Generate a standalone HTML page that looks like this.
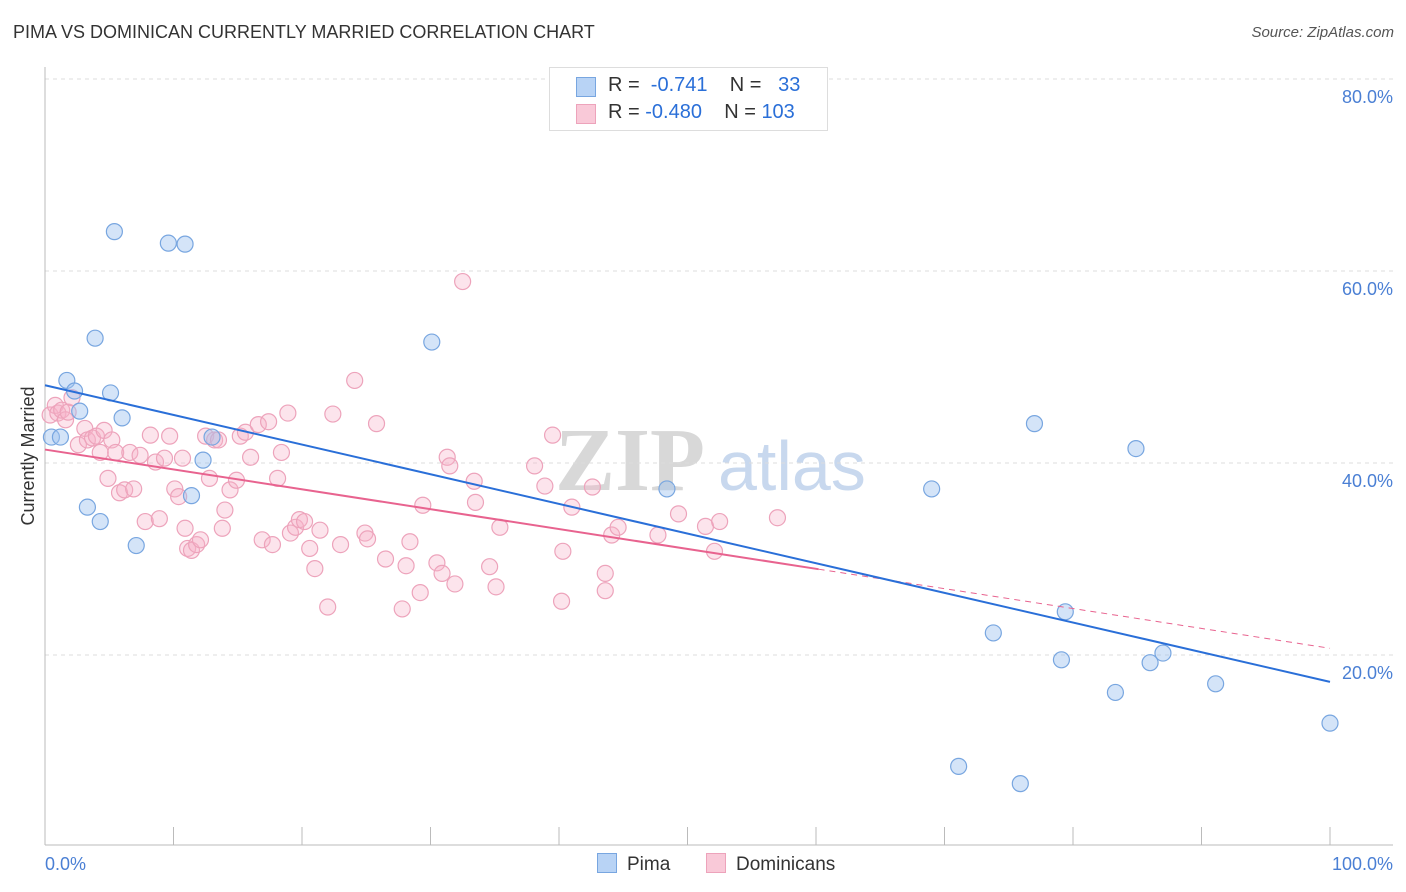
<!DOCTYPE html>
<html><head><meta charset="utf-8">
<style>
body{margin:0;background:#fff;font-family:"Liberation Sans",sans-serif;}
#wrap{position:relative;width:1406px;height:892px;overflow:hidden;}
.t{position:absolute;white-space:nowrap;}
</style></head><body>
<div id="wrap">
<div class="t" style="left:13px;top:22px;font-size:18px;color:#333;">PIMA VS DOMINICAN CURRENTLY MARRIED CORRELATION CHART</div>
<div class="t" style="right:12px;top:24px;font-size:15px;color:#555;font-style:italic;">Source: ZipAtlas.com</div>
<svg id="svg" width="1406" height="892" style="position:absolute;left:0;top:0"></svg>
</div>
<script>
const pimaX=[0.5,1.2,1.7,2.3,2.7,3.3,4.3,5.1,5.4,6.0,7.1,9.6,10.9,11.4,12.3,13.0,3.9,30.1,48.4,69.0,77.0,84.9,73.8,79.4,79.1,83.3,86.0,87.0,91.1,100,71.1,75.9];
const pimaY=[42.7,42.7,48.6,47.5,45.4,35.4,33.9,47.3,64.1,44.7,31.4,62.9,62.8,36.6,40.3,42.7,53.0,52.6,37.3,37.3,44.1,41.5,22.3,24.5,19.5,16.1,19.2,20.2,17.0,12.9,8.4,6.6];
const domX=[0.4,0.8,1.0,1.3,1.6,1.8,2.1,2.6,3.1,3.3,3.7,4.0,4.3,4.6,4.9,5.2,5.5,5.8,6.2,6.6,6.9,7.4,7.8,8.2,8.6,8.9,9.3,9.7,10.1,10.4,10.7,10.9,11.1,11.4,11.8,12.1,12.5,12.8,13.2,13.5,13.8,14.0,14.4,14.9,15.2,15.6,16.0,16.6,16.9,17.4,17.7,18.1,18.4,18.9,19.1,19.5,19.8,20.2,20.6,21.0,21.4,22.0,22.4,23.0,24.1,24.9,25.1,25.8,26.5,27.8,28.1,28.4,29.2,29.4,30.5,30.9,31.3,31.5,31.9,32.5,33.4,33.5,34.6,35.1,35.4,38.1,38.9,39.5,40.2,40.3,41.0,42.6,43.6,43.6,44.1,44.6,47.7,49.3,51.4,52.1,52.5,57.0];
const domY=[45.0,46.0,45.2,45.5,44.5,45.3,46.8,41.9,43.6,42.4,42.6,42.8,41.1,43.4,38.4,42.4,41.1,36.9,37.2,41.1,37.3,40.8,33.9,42.9,40.1,34.2,40.5,42.8,37.3,36.5,40.5,33.2,31.1,30.9,31.5,32.0,42.8,38.4,42.4,42.4,33.2,35.1,37.2,38.2,42.8,43.2,40.6,44.0,32.0,44.3,31.5,38.4,41.1,45.2,32.7,33.3,34.1,33.9,31.1,29.0,33.0,25.0,45.1,31.5,48.6,32.7,32.1,44.1,30.0,24.8,29.3,31.8,26.5,35.6,29.6,28.5,40.6,39.7,27.4,58.9,38.1,35.9,29.2,27.1,33.3,39.7,37.6,42.9,25.6,30.8,35.4,37.5,28.5,26.7,32.5,33.3,32.5,34.7,33.4,30.8,33.9,34.3];
const yTicks=[20,40,60,80];
const yTickLabels=["20.0%","40.0%","60.0%","80.0%"];
const pimaTrend=[48.1,17.2];
const domTrend=[41.4,20.7];
const domSolidEnd=60.2;

const NS="http://www.w3.org/2000/svg";
const svg=document.getElementById('svg');
const xs=v=>45+v*12.85, ys=v=>847-v*9.6;
function mk(tag,a){const e=document.createElementNS(NS,tag);for(const k in a)e.setAttribute(k,a[k]);svg.appendChild(e);return e;}
// watermark
let w=mk('text',{x:555,y:490,'font-size':90,'font-family':'Liberation Serif, serif',fill:'#d8d8d8','font-weight':'bold'});w.textContent='ZIP';


w=mk('text',{x:718,y:490,'font-size':70,'font-family':'Liberation Sans, sans-serif',fill:'#c8d8ee'});w.textContent='atlas';


yTicks.forEach((t,i)=>{
 let g=mk('line',{x1:45,x2:1393,y1:ys(t),y2:ys(t),stroke:'#ddd','stroke-dasharray':'4,4'});
 
 
 let l=mk('text',{x:1393,y:ys(t)+24,'text-anchor':'end','font-size':18,fill:'#4a7fd4'});l.textContent=yTickLabels[i];
 
 
});
let ax=mk('line',{x1:45,x2:45,y1:67,y2:845,stroke:'#bbb'});


ax=mk('line',{x1:45,x2:1393,y1:845,y2:845,stroke:'#bbb'});


for(let i=0;i<=10;i++){let t=mk('line',{x1:xs(i*10),x2:xs(i*10),y1:827,y2:845,stroke:'#bbb'});
 
 }
let xl=mk('text',{x:45,y:870,'font-size':18,fill:'#4a7fd4'});xl.textContent='0.0%';


xl=mk('text',{x:1393,y:870,'font-size':18,fill:'#4a7fd4','text-anchor':'end'});xl.textContent='100.0%';


let yt=mk('text',{x:34,y:456,'font-size':18,fill:'#333','text-anchor':'middle',transform:'rotate(-90 34 456)'});yt.textContent='Currently Married';


domX.forEach((x,i)=>{let c=mk('circle',{cx:xs(x),cy:ys(domY[i]),r:8,fill:'rgba(246,178,200,0.35)',stroke:'#eda3bb','stroke-width':1.2});
 
 });
pimaX.forEach((x,i)=>{let c=mk('circle',{cx:xs(x),cy:ys(pimaY[i]),r:8,fill:'rgba(160,196,240,0.45)',stroke:'#78a6e0','stroke-width':1.2});
 
 });
const dAt=x=>domTrend[0]+(domTrend[1]-domTrend[0])*x/100;
let tl=mk('line',{x1:xs(0),y1:ys(dAt(0)),x2:xs(domSolidEnd),y2:ys(dAt(domSolidEnd)),stroke:'#e8638f','stroke-width':2});


tl=mk('line',{x1:xs(domSolidEnd),y1:ys(dAt(domSolidEnd)),x2:xs(100),y2:ys(dAt(100)),stroke:'#e8638f','stroke-width':1,'stroke-dasharray':'6,5'});


tl=mk('line',{x1:xs(0),y1:ys(pimaTrend[0]),x2:xs(100),y2:ys(pimaTrend[1]),stroke:'#2a6fd8','stroke-width':2});


</script>
<div class="t" style="left:549px;top:67px;width:277px;height:62px;border:1px solid #ddd;background:#fff;font-size:20px;color:#333;">
 <div style="position:absolute;left:26px;top:9px;width:18px;height:18px;background:#b8d3f5;border:1px solid #78a6e0;"></div>
 <div style="position:absolute;left:58px;top:6px;">R = &nbsp;<span style="color:#2a6fd8">-0.741</span>&nbsp;&nbsp;&nbsp; N = &nbsp;&nbsp;<span style="color:#2a6fd8">33</span></div>
 <div style="position:absolute;left:26px;top:36px;width:18px;height:18px;background:#f9c9d8;border:1px solid #eda3bb;"></div>
 <div style="position:absolute;left:58px;top:33px;">R = <span style="color:#2a6fd8">-0.480</span>&nbsp;&nbsp;&nbsp; N = <span style="color:#2a6fd8">103</span></div>
</div>
<div class="t" style="left:597px;top:853px;font-size:19px;color:#333;"><span style="display:inline-block;width:18px;height:18px;background:#b8d3f5;border:1px solid #78a6e0;vertical-align:-3px;margin-right:10px;"></span>Pima</div>
<div class="t" style="left:706px;top:853px;font-size:19px;color:#333;"><span style="display:inline-block;width:18px;height:18px;background:#f9c9d8;border:1px solid #eda3bb;vertical-align:-3px;margin-right:10px;"></span>Dominicans</div>
</body></html>
